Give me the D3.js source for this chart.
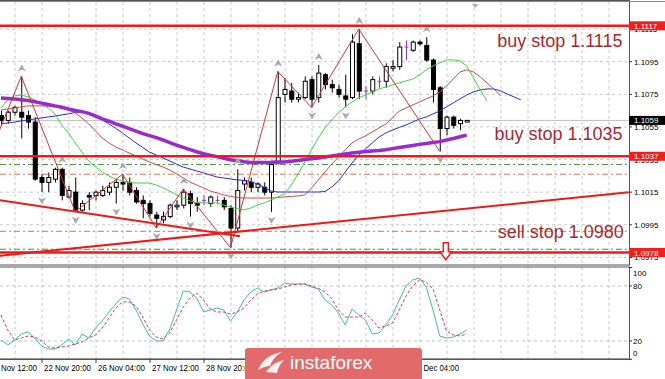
<!DOCTYPE html>
<html>
<head>
<meta charset="utf-8">
<script src="https://cdn.jsdelivr.net/npm/d3@7"></script>
<style>
  body { margin: 0; background: #fff; }
  svg { display: block; }
  text { font-family: "Liberation Sans", Arial, sans-serif; }
</style>
</head>
<body>
<div id="chart"></div>
<script>
// EURUSD H4 candles
var opens = [1.1062, 1.1059, 1.1064, 1.1064, 1.1062, 1.1058, 1.1024, 1.1021, 1.1023, 1.1029,
  1.1012, 1.1015, 1.1004, 1.1013, 1.1013, 1.1013, 1.1015, 1.1018, 1.1021, 1.1021,
  1.1016, 1.1010, 1.1008, 1.1001, 1.0998, 1.1000, 1.1006, 1.1007, 1.1014, 1.1008,
  1.1010, 1.1008, 1.1010, 1.1010, 1.1005, 1.0993, 1.1020, 1.1021, 1.1018, 1.1018,
  1.1015, 1.1033, 1.1075, 1.1077, 1.1072, 1.1073, 1.1084, 1.1073, 1.1087, 1.1081,
  1.1078, 1.1074, 1.1073, 1.1106, 1.1077, 1.1077, 1.1083, 1.1083, 1.1091, 1.1092,
  1.1104, 1.1102, 1.1107, 1.1105, 1.1096, 1.1079, 1.1054, 1.1061, 1.1057, 1.1058];
var highs = [1.1065, 1.1065, 1.1068, 1.1086, 1.1065, 1.1061, 1.1026, 1.1027, 1.1030, 1.1030,
  1.1019, 1.1024, 1.1010, 1.1015, 1.1016, 1.1019, 1.1021, 1.1023, 1.1026, 1.1024,
  1.1018, 1.1013, 1.1010, 1.1003, 1.1003, 1.1008, 1.1010, 1.1017, 1.1016, 1.1012,
  1.1013, 1.1013, 1.1013, 1.1012, 1.1007, 1.1029, 1.1024, 1.1024, 1.1021, 1.1021,
  1.1034, 1.1089, 1.1085, 1.1082, 1.1076, 1.1086, 1.1086, 1.1093, 1.1088, 1.1084,
  1.1081, 1.1087, 1.1112, 1.1115, 1.1080, 1.1086, 1.1086, 1.1094, 1.1096, 1.1107,
  1.1108, 1.1108, 1.1108, 1.1110, 1.1097, 1.1080, 1.1062, 1.1062, 1.1060, 1.1059];
var lows = [1.1056, 1.1057, 1.1062, 1.1048, 1.1054, 1.1022, 1.1015, 1.1015, 1.1021, 1.1010,
  1.1011, 1.1003, 1.1003, 1.1004, 1.1010, 1.1012, 1.1013, 1.1008, 1.1016, 1.1013,
  1.1008, 1.0999, 1.1000, 1.0993, 1.0996, 1.0999, 1.1004, 1.1005, 1.1000, 1.1003,
  1.1007, 1.1006, 1.1008, 1.1004, 1.0981, 1.0991, 1.1016, 1.1015, 1.1015, 1.1013,
  1.1003, 1.1032, 1.1070, 1.1070, 1.1070, 1.1072, 1.1067, 1.1070, 1.1078, 1.1076,
  1.1073, 1.1067, 1.1072, 1.1072, 1.1072, 1.1075, 1.1079, 1.1079, 1.1089, 1.1090,
  1.1096, 1.1101, 1.1105, 1.1095, 1.1070, 1.1040, 1.1050, 1.1054, 1.1053, 1.1058];
var closes = [1.1059, 1.1064, 1.1067, 1.1061, 1.1058, 1.1023, 1.1021, 1.1024, 1.1029, 1.1013,
  1.1016, 1.1004, 1.1008, 1.1012, 1.1015, 1.1016, 1.1018, 1.1021, 1.1020, 1.1015,
  1.1009, 1.1008, 1.1002, 1.0999, 1.1000, 1.1007, 1.1007, 1.1015, 1.1008, 1.1007,
  1.1010, 1.1012, 1.1010, 1.1006, 1.0993, 1.1016, 1.1022, 1.1018, 1.1020, 1.1015,
  1.1032, 1.1073, 1.1078, 1.1072, 1.1073, 1.1083, 1.1072, 1.1088, 1.1081, 1.1079,
  1.1075, 1.1072, 1.1107, 1.1077, 1.1077, 1.1084, 1.1083, 1.1092, 1.1092, 1.1104,
  1.1104, 1.1107, 1.1106, 1.1096, 1.1078, 1.1054, 1.1061, 1.1056, 1.1059, 1.1059];

// alligator (shifted forward, so they run past the last candle)
var jaw = [1.10568, 1.10574, 1.10580, 1.10587, 1.10593, 1.10599, 1.10605, 1.10611, 1.10617, 1.10624,
  1.10630, 1.10639, 1.10642, 1.10633, 1.10617, 1.10593, 1.10568, 1.10541, 1.10513, 1.10482,
  1.10452, 1.10424, 1.10396, 1.10378, 1.10360, 1.10341, 1.10322, 1.10304, 1.10292, 1.10280,
  1.10268, 1.10255, 1.10243, 1.10237, 1.10231, 1.10225, 1.10222, 1.10215, 1.10200, 1.10179,
  1.10157, 1.10151, 1.10151, 1.10151, 1.10151, 1.10151, 1.10151, 1.10151, 1.10154, 1.10182,
  1.10218, 1.10274, 1.10329, 1.10378, 1.10415, 1.10452, 1.10488, 1.10513, 1.10531, 1.10547,
  1.10562, 1.10580, 1.10599, 1.10611, 1.10630, 1.10648, 1.10673, 1.10697, 1.10722, 1.10746,
  1.10765, 1.10777, 1.10783, 1.10783, 1.10771, 1.10752, 1.10734, 1.10716];
var teeth = [1.10654, 1.10660, 1.10666, 1.10673, 1.10679, 1.10679, 1.10679, 1.10676, 1.10673, 1.10666,
  1.10654, 1.10636, 1.10605, 1.10568, 1.10525, 1.10482, 1.10452, 1.10427, 1.10409, 1.10390,
  1.10372, 1.10353, 1.10335, 1.10319, 1.10304, 1.10286, 1.10262, 1.10237, 1.10212, 1.10194,
  1.10176, 1.10157, 1.10145, 1.10133, 1.10124, 1.10117, 1.10114, 1.10114, 1.10114, 1.10114,
  1.10114, 1.10117, 1.10121, 1.10124, 1.10127, 1.10133, 1.10176, 1.10225, 1.10274, 1.10322,
  1.10366, 1.10409, 1.10452, 1.10476, 1.10495, 1.10519, 1.10544, 1.10568, 1.10605, 1.10648,
  1.10666, 1.10685, 1.10703, 1.10722, 1.10740, 1.10765, 1.10801, 1.10844, 1.10887, 1.10900,
  1.10887, 1.10857, 1.10820, 1.10783, 1.10740];
var lips = [1.10666, 1.10716, 1.10740, 1.10746, 1.10734, 1.10716, 1.10691, 1.10666, 1.10630, 1.10562,
  1.10513, 1.10452, 1.10396, 1.10341, 1.10304, 1.10274, 1.10249, 1.10231, 1.10218, 1.10209,
  1.10206, 1.10206, 1.10206, 1.10194, 1.10176, 1.10157, 1.10133, 1.10114, 1.10096, 1.10087,
  1.10084, 1.10084, 1.10084, 1.10071, 1.10059, 1.10050, 1.10041, 1.10053, 1.10071, 1.10084,
  1.10102, 1.10121, 1.10139, 1.10194, 1.10262, 1.10335, 1.10409, 1.10482, 1.10544, 1.10593,
  1.10636, 1.10673, 1.10703, 1.10728, 1.10746, 1.10765, 1.10783, 1.10795, 1.10808, 1.10820,
  1.10832, 1.10844, 1.10869, 1.10900, 1.10924, 1.10943, 1.10961, 1.10961, 1.10955, 1.10924,
  1.10851, 1.10777, 1.10709];
var slowMa = [1.10728, 1.10725, 1.10722, 1.10717, 1.10712, 1.10704, 1.10696, 1.10688, 1.10679, 1.10671,
  1.10660, 1.10651, 1.10644, 1.10633, 1.10617, 1.10600, 1.10585, 1.10569, 1.10555, 1.10539,
  1.10524, 1.10509, 1.10497, 1.10484, 1.10470, 1.10454, 1.10439, 1.10425, 1.10411, 1.10398,
  1.10386, 1.10377, 1.10368, 1.10358, 1.10349, 1.10343, 1.10337, 1.10332, 1.10332, 1.10332,
  1.10333, 1.10335, 1.10335, 1.10339, 1.10344, 1.10350, 1.10355, 1.10360, 1.10366, 1.10372,
  1.10378, 1.10384, 1.10390, 1.10395, 1.10399, 1.10403, 1.10406, 1.10410, 1.10417, 1.10424,
  1.10430, 1.10436, 1.10443, 1.10449, 1.10454, 1.10460, 1.10470, 1.10479, 1.10490, 1.10500];

// stochastic %K / %D
var stochK = [21, 15.6, 21, 27.6, 29.8, 23.2, 14.5, 11.2, 11.2, 15.6,
  22.1, 15.6, 27.6, 23.2, 34.1, 41.8, 51.6, 60.3, 67.9, 65.8,
  53.8, 38.5, 25.4, 20, 20, 33, 53.8, 74.5, 73.4, 66.8,
  51.6, 53.8, 55.9, 53.8, 41.8, 51.6, 64.7, 73.4, 77.7, 73.4,
  75.6, 77.7, 83.2, 82.1, 82.1, 82.1, 78.8, 76.7, 64.7, 59.2,
  50.5, 37.4, 54.9, 48.3, 42.9, 27.6, 28.7, 37.4, 48.3, 64.7,
  79.9, 86.5, 88.7, 78.8, 53.8, 25.4, 23.2, 24.3, 27.6, 32];
var stochD = [48.3, 32, 21, 23.2, 25.4, 24.3, 20, 13.4, 12.3, 13.4,
  14.5, 16.7, 18.9, 23.2, 26.5, 34.1, 45, 55.9, 62.5, 62.5,
  58.1, 46.1, 32, 24.3, 22.1, 28.7, 42.9, 57, 66.8, 72.3,
  64.7, 54.9, 51.6, 51.6, 49.4, 51.6, 55.9, 64.7, 71.2, 74.5,
  75.6, 76.7, 78.8, 81, 82.1, 82.1, 79.9, 77.7, 73.4, 65.8,
  53.8, 46.1, 46.1, 46.1, 50.5, 42.9, 34.1, 36.3, 39.6, 53.8,
  69, 79.9, 86.5, 84.3, 76.7, 53.8, 30.9, 26.5, 25.4, 27.6];

// zigzag turning points (candle index, price)
var zigzagIdx = [-1, 3, 11, 18, 23, 27, 34, 41, 46, 53, 65];
var zigzagPrice = [1.1045, 1.1086, 1.1003, 1.1026, 1.0993, 1.1017, 1.0981, 1.1089, 1.1067, 1.1115, 1.1040];
// fractals (candle index)
var fractalUp = [3, 9, 18, 27, 35, 41, 47, 53, 63];
var fractalDown = [6, 11, 17, 23, 28, 34, 40, 46, 51, 65];

// axes
var priceTicks = [1.1115, 1.1095, 1.1075, 1.1055, 1.1035, 1.1015, 1.0995, 1.0975];
var oscTicks = [100, 80, 20, 0];
var dateTickIdx = [-2, 6, 14, 22, 30, 38, 46, 54, 62];
var dateLabels = ["21 Nov 12:00", "22 Nov 20:00", "26 Nov 04:00", "27 Nov 12:00", "28 Nov 20:00",
  "2 Dec 04:00", "3 Dec 12:00", "4 Dec 20:00", "6 Dec 04:00"];

// objects drawn on the chart
var redLevels = [1.1117, 1.1037, 1.0978];
var greenLevels = [1.1032, 1.0980];
var orangeLevels = [1.1026, 1.0991];
var bidPrice = 1.1059;
var trendStartIdx = [-0.15, -0.15];
var trendStartPrice = [1.1010, 1.0976];
var trendEndIdx = [35.4, 93];
var trendEndPrice = [1.0988, 1.1015];
var notes = ["buy stop 1.1115", "buy stop 1.1035", "sell stop 1.0980"];
var notePrices = [1.1104, 1.1047, 1.0987];
var noteIdx = [73.5, 73.1, 73.6];
var arrowIdx = 65.9, arrowPrice = 1.0984;

var W = 665, H = 379, R = 629;
var mainTop = 2, mainBot = 264.5, oscTop = 267, oscBot = 359.3;
var logo = {x0: 245, x1: 422, y0: 348};

var svg = d3.select("#chart").append("svg")
    .attr("width", W).attr("height", H);

var x = d3.scaleLinear().domain([0, 69]).range([1, 1 + 69 * 6.75]);
var y = d3.scaleLinear().domain([1.0975, 1.1095]).range([257.4, 61.7]);
var yo = d3.scaleLinear().domain([0, 100]).range([oscBot, 267.6]);

var defs = svg.append("defs");
defs.append("clipPath").attr("id", "clipMain").append("rect")
    .attr("x", 0).attr("y", mainTop).attr("width", R).attr("height", mainBot - mainTop);
defs.append("clipPath").attr("id", "clipOsc").append("rect")
    .attr("x", 0).attr("y", oscTop).attr("width", R).attr("height", oscBot - oscTop);

var main = svg.append("g").attr("clip-path", "url(#clipMain)");
var osc = svg.append("g").attr("clip-path", "url(#clipOsc)");

// grid
var gridIdx = d3.range(2, 96, 4);
main.selectAll(".vgrid").data(gridIdx).enter().append("line")
    .attr("x1", function (d) { return x(d) + 0.5; }).attr("x2", function (d) { return x(d) + 0.5; })
    .attr("y1", mainTop).attr("y2", mainBot)
    .attr("stroke", "#c8c8c8").attr("stroke-dasharray", "3,3");
main.selectAll(".hgrid").data(priceTicks).enter().append("line")
    .attr("x1", 0).attr("x2", R)
    .attr("y1", function (d) { return y(d); }).attr("y2", function (d) { return y(d); })
    .attr("stroke", "#c8c8c8").attr("stroke-dasharray", "3,3");
osc.selectAll(".vgrid").data(gridIdx).enter().append("line")
    .attr("x1", function (d) { return x(d) + 0.5; }).attr("x2", function (d) { return x(d) + 0.5; })
    .attr("y1", oscTop).attr("y2", oscBot)
    .attr("stroke", "#c8c8c8").attr("stroke-dasharray", "3,3");
osc.selectAll(".hgrid").data([80, 20]).enter().append("line")
    .attr("x1", 0).attr("x2", R)
    .attr("y1", function (d) { return yo(d); }).attr("y2", function (d) { return yo(d); })
    .attr("stroke", "#c0c0c0").attr("stroke-dasharray", "3,3");

// bid line
main.append("line").attr("x1", 0).attr("x2", R)
    .attr("y1", y(bidPrice)).attr("y2", y(bidPrice))
    .attr("stroke", "#c0c0c0");

// order levels (dash-dot)
main.selectAll(".glev").data(greenLevels).enter().append("line")
    .attr("x1", 0).attr("x2", R)
    .attr("y1", function (d) { return y(d); }).attr("y2", function (d) { return y(d); })
    .attr("stroke", "#3a9a3a").attr("stroke-dasharray", "6,3,2,3");
main.selectAll(".olev").data(orangeLevels).enter().append("line")
    .attr("x1", 0).attr("x2", R)
    .attr("y1", function (d) { return y(d); }).attr("y2", function (d) { return y(d); })
    .attr("stroke", "#d9734a").attr("stroke-dasharray", "6,3,2,3");

// candles
var candles = d3.range(opens.length);
main.selectAll(".wick").data(candles).enter().append("line")
    .attr("x1", function (i) { return x(i) + 0.5; }).attr("x2", function (i) { return x(i) + 0.5; })
    .attr("y1", function (i) { return y(highs[i]); }).attr("y2", function (i) { return y(lows[i]); })
    .attr("stroke", function (i) { return opens[i] === closes[i] ? "#9b30c8" : "#000"; });
main.selectAll(".body").data(candles.filter(function (i) { return opens[i] !== closes[i]; }))
    .enter().append("rect")
    .attr("x", function (i) { return x(i) - 1.5; })
    .attr("width", 4)
    .attr("y", function (i) { return y(Math.max(opens[i], closes[i])); })
    .attr("height", function (i) { return Math.max(1, Math.abs(y(opens[i]) - y(closes[i]))); })
    .attr("fill", function (i) { return closes[i] > opens[i] ? "#fff" : "#000"; })
    .attr("stroke", "#000").attr("stroke-width", 1);
main.selectAll(".doji").data(candles.filter(function (i) { return opens[i] === closes[i]; }))
    .enter().append("line")
    .attr("x1", function (i) { return x(i) - 1.5; }).attr("x2", function (i) { return x(i) + 2.5; })
    .attr("y1", function (i) { return y(opens[i]); }).attr("y2", function (i) { return y(opens[i]); })
    .attr("stroke", "#9b30c8");

// indicator lines
function drawLine(g, values, scale, color, width, dash) {
    var line = d3.line()
        .x(function (d, i) { return x(i); })
        .y(function (d) { return scale(d); });
    g.append("path").datum(values)
        .attr("d", line)
        .attr("fill", "none")
        .attr("stroke", color)
        .attr("stroke-width", width)
        .attr("stroke-dasharray", dash || null);
}
drawLine(main, jaw, y, "#2b2bd8", 1);
drawLine(main, teeth, y, "#d24848", 1);
drawLine(main, lips, y, "#3fd43f", 1);
drawLine(main, slowMa, y, "#9a2ad0", 3.5);

// zigzag
main.append("path").datum(d3.zip(zigzagIdx, zigzagPrice))
    .attr("d", d3.line().x(function (d) { return x(d[0]); }).y(function (d) { return y(d[1]); }))
    .attr("fill", "none").attr("stroke", "#d03535").attr("stroke-width", 1);

// fractal arrows
main.selectAll(".fup").data(fractalUp).enter().append("path")
    .attr("d", function (i) {
        var cx = x(i) + 0.5, cy = y(highs[i]) - 8;
        return "M" + cx + "," + (cy - 4) + "L" + (cx + 4) + "," + (cy + 3) + "L" + cx + "," + (cy + 1) + "L" + (cx - 4) + "," + (cy + 3) + "Z";
    })
    .attr("fill", "#a8a8a8");
main.selectAll(".fdn").data(fractalDown).enter().append("path")
    .attr("d", function (i) {
        var cx = x(i) + 0.5, cy = y(lows[i]) + 8;
        return "M" + cx + "," + (cy + 4) + "L" + (cx + 4) + "," + (cy - 3) + "L" + cx + "," + (cy - 1) + "L" + (cx - 4) + "," + (cy - 3) + "Z";
    })
    .attr("fill", "#a8a8a8");

// red levels and trend lines
main.selectAll(".rlev").data(redLevels).enter().append("line")
    .attr("x1", 0).attr("x2", R)
    .attr("y1", function (d) { return y(d); }).attr("y2", function (d) { return y(d); })
    .attr("stroke", "#f01818").attr("stroke-width", 2.5);
main.selectAll(".trend").data(d3.range(trendStartIdx.length)).enter().append("line")
    .attr("x1", function (k) { return x(trendStartIdx[k]); })
    .attr("y1", function (k) { return y(trendStartPrice[k]); })
    .attr("x2", function (k) { return x(trendEndIdx[k]); })
    .attr("y2", function (k) { return y(trendEndPrice[k]); })
    .attr("stroke", "#f01818").attr("stroke-width", 2);

// notes
main.selectAll(".note").data(notes).enter().append("text")
    .attr("x", function (d, k) { return x(noteIdx[k]); })
    .attr("y", function (d, k) { return y(notePrices[k]); })
    .attr("font-size", "18px")
    .attr("fill", "#a42a30")
    .text(function (d) { return d; });

// chart shift marker
svg.append("path")
    .attr("d", "M" + (x(69) + 5) + ",4L" + (x(69) + 12) + ",4L" + (x(69) + 8.5) + ",8Z")
    .attr("fill", "#b0b0b0");

// oscillator lines
drawLine(osc, stochK, yo, "#3fb8b0", 1);
drawLine(osc, stochD, yo, "#e03a3a", 1, "3,2");

// frames
svg.append("rect").attr("x", -1).attr("y", 0.5).attr("width", R + 1.5).attr("height", mainBot)
    .attr("fill", "none").attr("stroke", "#555");
svg.append("line").attr("x1", 0).attr("x2", W).attr("y1", 1.5).attr("y2", 1.5).attr("stroke", "#888");
svg.append("rect").attr("x", -1).attr("y", oscTop).attr("width", R + 1.5).attr("height", oscBot - oscTop)
    .attr("fill", "none").attr("stroke", "#555");
svg.append("line").attr("x1", 0).attr("x2", R).attr("y1", oscBot).attr("y2", oscBot)
    .attr("stroke", "#555").attr("stroke-width", 1.5);

// price axis
var axisG = svg.append("g");
axisG.selectAll(".ptick").data(priceTicks).enter().append("line")
    .attr("x1", R).attr("x2", R + 3)
    .attr("y1", function (d) { return y(d); }).attr("y2", function (d) { return y(d); })
    .attr("stroke", "#333");
axisG.selectAll(".plab").data(priceTicks).enter().append("text")
    .attr("x", R + 5).attr("y", function (d) { return y(d) + 3; })
    .attr("font-size", "8px").attr("fill", "#000")
    .text(function (d) { return d.toFixed(4); });

// oscillator axis
axisG.selectAll(".olab").data(oscTicks).enter().append("text")
    .attr("x", R + 4)
    .attr("y", function (d) { return yo(d) + (d === 100 ? 8 : d === 0 ? -3 : 3); })
    .attr("font-size", "8px").attr("fill", "#000")
    .text(function (d) { return d; });
axisG.selectAll(".otick").data(oscTicks).enter().append("line")
    .attr("x1", R).attr("x2", R + 3)
    .attr("y1", function (d) { return yo(d); }).attr("y2", function (d) { return yo(d); })
    .attr("stroke", "#333");

// price boxes
var boxPrices = redLevels.concat([bidPrice]);
var boxes = axisG.selectAll(".pbox").data(boxPrices).enter().append("g");
boxes.append("rect")
    .attr("x", R).attr("width", W - R)
    .attr("y", function (d) { return y(d) - 4.5; }).attr("height", 9)
    .attr("fill", function (d) { return d === bidPrice ? "#000" : "#f51c1c"; });
boxes.append("text")
    .attr("x", R + 5).attr("y", function (d) { return y(d) + 3; })
    .attr("font-size", "8px").attr("fill", "#fff")
    .text(function (d) { return d.toFixed(4); });

// time axis (labels that sit fully under the watermark are not shown)
axisG.selectAll(".dtick").data(dateTickIdx).enter().append("line")
    .attr("x1", function (i) { return x(i) + 0.5; }).attr("x2", function (i) { return x(i) + 0.5; })
    .attr("y1", oscBot).attr("y2", oscBot + 3.5)
    .attr("stroke", "#333");
var shownDates = d3.range(dateTickIdx.length).filter(function (k) {
    var lx = x(dateTickIdx[k]);
    return lx + 40 < logo.x0 || lx > logo.x1 - 8;
});
axisG.selectAll(".dlab").data(shownDates).enter().append("text")
    .attr("x", function (k) { return x(dateTickIdx[k]) + (dateLabels[k].length > 11 ? 2.5 : -2.5); })
    .attr("y", 370.5)
    .attr("font-size", "9px").attr("fill", "#000")
    .attr("textLength", function (k) { return dateLabels[k].length > 11 ? 47 : 42; })
    .attr("lengthAdjust", "spacingAndGlyphs")
    .text(function (k) { return dateLabels[k]; });

// sell stop arrow marker
var ax = x(arrowIdx), ay = y(arrowPrice);
svg.append("path")
    .attr("d", "M" + (ax - 2.5) + "," + ay + "L" + (ax + 2.5) + "," + ay + "L" + (ax + 2.5) + "," + (ay + 9) +
        "L" + (ax + 6) + "," + (ay + 9) + "L" + ax + "," + (ay + 17) + "L" + (ax - 6) + "," + (ay + 9) +
        "L" + (ax - 2.5) + "," + (ay + 9) + "Z")
    .attr("fill", "#fff").attr("stroke", "#f01818").attr("stroke-width", 1.5);

// watermark
var wm = svg.append("g");
wm.append("rect").attr("x", logo.x0).attr("y", logo.y0).attr("width", logo.x1 - logo.x0).attr("height", 40).attr("rx", 3)
    .attr("fill", "#e36a6a");
wm.append("path")
    .attr("d", "M258,370 C262,360 270,354 282,352 C276,356 272,360 270,366 C266,366 262,368 258,370 Z M266,372 C270,366 276,362 284,360 C280,364 278,368 277,373 Z")
    .attr("fill", "#fff").attr("opacity", 0.9);
wm.append("text").attr("x", 290).attr("y", 368.5)
    .attr("font-size", "19px").attr("fill", "#fff")
    .text("instaforex");
</script>
</body>
</html>
